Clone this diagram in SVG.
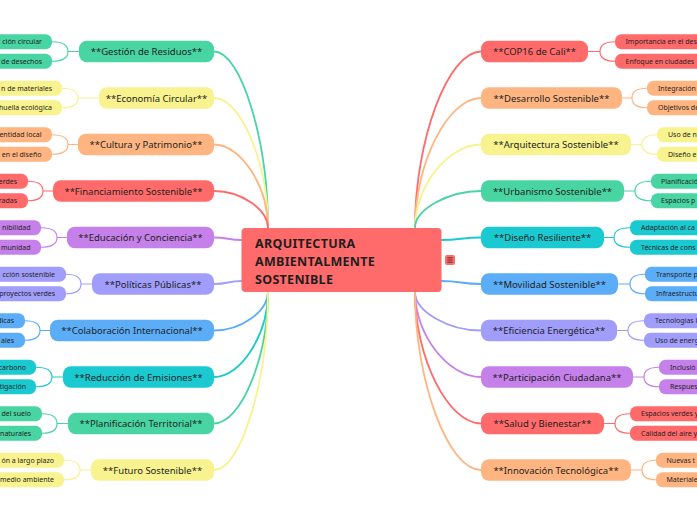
<svg xmlns="http://www.w3.org/2000/svg" width="697" height="520" viewBox="0 0 697 520">
<style>
text{font-family:"Noto Sans","Open Sans",sans-serif;fill:#1e1e1e}
.m text{font-size:9.5px;text-anchor:middle}
.m text.lf{font-size:7px;text-anchor:start}
.m text.le{text-anchor:end}
.c path{fill:none;stroke-width:1.8;stroke-linecap:round}
.c .b{stroke-width:1.2}
.fg{fill:#48D5A3}.fy{fill:#F8F28F}.fp{fill:#FFB581}.fr{fill:#FF6B6B}.fu{fill:#C581E9}.fl{fill:#A19DFB}.fb{fill:#5CADF7}.fc{fill:#1BCAD0}
.sg{stroke:#48D5A3}.sy{stroke:#F8F28F}.sp{stroke:#FFB581}.sr{stroke:#FF6B6B}.su{stroke:#C581E9}.sl{stroke:#A19DFB}.sb{stroke:#5CADF7}.sc{stroke:#1BCAD0}
</style>
<rect width="697" height="520" fill="#ffffff"/>
<g class="c" id="connectors">
<path class="sg" d="M214,51.5 C241,51.5 268,139.75 268,228"/>
<path class="sy" d="M214,98 C241,98 268,163 268,228"/>
<path class="sp" d="M214,144.5 C241,144.5 268,186.25 268,228"/>
<path class="sr" d="M214,191 C241,191 268,209.5 268,228"/>
<path class="su" d="M214,237.5 C228,237.5 228,240 242,240"/>
<path class="sl" d="M214,284 C228,284 228,281 242,281"/>
<path class="sb" d="M214,330.5 C241,330.5 268,311.25 268,292"/>
<path class="sc" d="M214,377 C241,377 268,334.5 268,292"/>
<path class="sg" d="M214,423.5 C241,423.5 268,357.75 268,292"/>
<path class="sy" d="M214,470 C241,470 268,381 268,292"/>
<path class="sr" d="M481,51.5 C448,51.5 415,139.75 415,228"/>
<path class="sp" d="M481,98 C448,98 415,163 415,228"/>
<path class="sy" d="M481,144.5 C448,144.5 415,186.25 415,228"/>
<path class="sg" d="M481,191 C448,191 415,209.5 415,228"/>
<path class="sc" d="M481,237.5 C461,237.5 461,240 441,240"/>
<path class="sb" d="M481,284 C461,284 461,281 441,281"/>
<path class="sl" d="M481,330.5 C448,330.5 415,311.25 415,292"/>
<path class="su" d="M481,377 C448,377 415,334.5 415,292"/>
<path class="sr" d="M481,423.5 C448,423.5 415,357.75 415,292"/>
<path class="sp" d="M481,470 C448,470 415,381 415,292"/>
<path class="b sg" d="M52,41.75 Q68,41.75 68,51.5 Q68,61.25 52,61.25 M68,51.5 H79"/>
<path class="b sy" d="M62,88.25 Q78,88.25 78,98 Q78,107.75 62,107.75 M78,98 H99"/>
<path class="b sp" d="M52,134.75 Q68,134.75 68,144.5 Q68,154.25 52,154.25 M68,144.5 H78"/>
<path class="b sr" d="M28,181.25 Q43,181.25 43,191 Q43,200.75 28,200.75 M43,191 H53"/>
<path class="b su" d="M41,227.75 Q57,227.75 57,237.5 Q57,247.25 41,247.25 M57,237.5 H67"/>
<path class="b sl" d="M66,274.25 Q81,274.25 81,284 Q81,293.75 66,293.75 M81,284 H92"/>
<path class="b sb" d="M25,320.75 Q40,320.75 40,330.5 Q40,340.25 25,340.25 M40,330.5 H50"/>
<path class="b sc" d="M36,367.25 Q52,367.25 52,377 Q52,386.75 36,386.75 M52,377 H63"/>
<path class="b sg" d="M42,413.75 Q57,413.75 57,423.5 Q57,433.25 42,433.25 M57,423.5 H68"/>
<path class="b sy" d="M64,460.25 Q80,460.25 80,470 Q80,479.75 64,479.75 M80,470 H91"/>
<path class="b sr" d="M615,41.75 Q600,41.75 600,51.5 Q600,61.25 615,61.25 M600,51.5 H588"/>
<path class="b sp" d="M647,88.25 Q632,88.25 632,98 Q632,107.75 647,107.75 M632,98 H622"/>
<path class="b sy" d="M657,134.75 Q642,134.75 642,144.5 Q642,154.25 657,154.25 M642,144.5 H631"/>
<path class="b sg" d="M651,181.25 Q635,181.25 635,191 Q635,200.75 651,200.75 M635,191 H624"/>
<path class="b sc" d="M630,227.75 Q614,227.75 614,237.5 Q614,247.25 630,247.25 M614,237.5 H604"/>
<path class="b sb" d="M645,274.25 Q630,274.25 630,284 Q630,293.75 645,293.75 M630,284 H618"/>
<path class="b sl" d="M644,320.75 Q628,320.75 628,330.5 Q628,340.25 644,340.25 M628,330.5 H617"/>
<path class="b su" d="M659,367.25 Q644,367.25 644,377 Q644,386.75 659,386.75 M644,377 H633"/>
<path class="b sr" d="M630,413.75 Q615,413.75 615,423.5 Q615,433.25 630,433.25 M615,423.5 H604"/>
<path class="b sp" d="M656,460.25 Q642,460.25 642,470 Q642,479.75 656,479.75 M642,470 H631"/>
</g>
<g id="center">
<rect x="241.5" y="228" width="200" height="64" rx="4" fill="#FF6B6B"/>
<text x="255" y="247.5" font-size="12.5" font-weight="bold" letter-spacing="0.3">ARQUITECTURA</text>
<text x="255" y="265.5" font-size="12.5" font-weight="bold" letter-spacing="0.3">AMBIENTALMENTE</text>
<text x="255" y="283.5" font-size="12.5" font-weight="bold" letter-spacing="0.3">SOSTENIBLE</text>
<rect x="445" y="255" width="10" height="10" rx="2" fill="#FF6B6B"/>
<path d="M447.3,257.8 H452.7 M447.3,260 H452.7 M447.3,262.2 H452.7" stroke="#3a1a1a" stroke-width="0.8"/>
</g>
<g class="m" id="n-gestion">
<rect class="fg" x="79" y="40.75" width="135" height="21.5" rx="8"/><text x="146.5" y="55">**Gestión de Residuos**</text>
<rect class="fg" x="-40" y="34.25" width="92" height="15" rx="6.5"/><text class="lf le" x="42" y="44.3">ción circular</text>
<rect class="fg" x="-40" y="53.75" width="92" height="15" rx="6.5"/><text class="lf le" x="42" y="63.8">de desechos</text>
</g>
<g class="m" id="n-economia">
<rect class="fy" x="99" y="87.25" width="115" height="21.5" rx="8"/><text x="156.5" y="101.5">**Economía Circular**</text>
<rect class="fy" x="-40" y="80.75" width="102" height="15" rx="6.5"/><text class="lf le" x="52" y="90.8">n de materiales</text>
<rect class="fy" x="-40" y="100.25" width="102" height="15" rx="6.5"/><text class="lf le" x="52" y="110.3">huella ecológica</text>
</g>
<g class="m" id="n-cultura">
<rect class="fp" x="78" y="133.75" width="136" height="21.5" rx="8"/><text x="146" y="148">**Cultura y Patrimonio**</text>
<rect class="fp" x="-40" y="127.25" width="92" height="15" rx="6.5"/><text class="lf le" x="41.5" y="137.3">entidad local</text>
<rect class="fp" x="-40" y="146.75" width="92" height="15" rx="6.5"/><text class="lf le" x="41.5" y="156.8">en el diseño</text>
</g>
<g class="m" id="n-financiamiento">
<rect class="fr" x="53" y="180.25" width="161" height="21.5" rx="8"/><text x="133.5" y="194.5">**Financiamiento Sostenible**</text>
<rect class="fr" x="-40" y="173.75" width="68" height="15" rx="6.5"/><text class="lf le" x="17" y="183.8">erdes</text>
<rect class="fr" x="-40" y="193.25" width="68" height="15" rx="6.5"/><text class="lf le" x="17" y="203.3">radas</text>
</g>
<g class="m" id="n-educacion">
<rect class="fu" x="67" y="226.75" width="147" height="21.5" rx="8"/><text x="140.5" y="241">**Educación y Conciencia**</text>
<rect class="fu" x="-40" y="220.25" width="81" height="15" rx="6.5"/><text class="lf le" x="30.5" y="230.3">nibilidad</text>
<rect class="fu" x="-40" y="239.75" width="81" height="15" rx="6.5"/><text class="lf le" x="30.5" y="249.8">munidad</text>
</g>
<g class="m" id="n-politicas">
<rect class="fl" x="92" y="273.25" width="122" height="21.5" rx="8"/><text x="153" y="287.5">**Políticas Públicas**</text>
<rect class="fl" x="-40" y="266.75" width="106" height="15" rx="6.5"/><text class="lf le" x="55" y="276.8">cción sostenible</text>
<rect class="fl" x="-40" y="286.25" width="106" height="15" rx="6.5"/><text class="lf le" x="55" y="296.3">proyectos verdes</text>
</g>
<g class="m" id="n-colaboracion">
<rect class="fb" x="50" y="319.75" width="164" height="21.5" rx="8"/><text x="132" y="334">**Colaboración Internacional**</text>
<rect class="fb" x="-40" y="313.25" width="65" height="15" rx="6.5"/><text class="lf le" x="14" y="323.3">dicas</text>
<rect class="fb" x="-40" y="332.75" width="65" height="15" rx="6.5"/><text class="lf le" x="14" y="342.8">ales</text>
</g>
<g class="m" id="n-reduccion">
<rect class="fc" x="63" y="366.25" width="151" height="21.5" rx="8"/><text x="138.5" y="380.5">**Reducción de Emisiones**</text>
<rect class="fc" x="-40" y="359.75" width="76" height="15" rx="6.5"/><text class="lf le" x="26" y="369.8">carbono</text>
<rect class="fc" x="-40" y="379.25" width="76" height="15" rx="6.5"/><text class="lf le" x="26" y="389.3">tigación</text>
</g>
<g class="m" id="n-planificacion">
<rect class="fg" x="68" y="412.75" width="146" height="21.5" rx="8"/><text x="141" y="427">**Planificación Territorial**</text>
<rect class="fg" x="-40" y="406.25" width="82" height="15" rx="6.5"/><text class="lf le" x="31" y="416.3">del suelo</text>
<rect class="fg" x="-40" y="425.75" width="82" height="15" rx="6.5"/><text class="lf le" x="31" y="435.8">naturales</text>
</g>
<g class="m" id="n-futuro">
<rect class="fy" x="91" y="459.25" width="123" height="21.5" rx="8"/><text x="152.5" y="473.5">**Futuro Sostenible**</text>
<rect class="fy" x="-40" y="452.75" width="104" height="15" rx="6.5"/><text class="lf le" x="54" y="462.8">ón a largo plazo</text>
<rect class="fy" x="-40" y="472.25" width="104" height="15" rx="6.5"/><text class="lf le" x="54" y="482.3">medio ambiente</text>
</g>
<g class="m" id="n-cop16">
<rect class="fr" x="481" y="40.75" width="107" height="21.5" rx="8"/><text x="534.5" y="55">**COP16 de Cali**</text>
<rect class="fr" x="615" y="34.25" width="130" height="15" rx="6.5"/><text class="lf" x="625.5" y="44.3">Importancia en el des</text>
<rect class="fr" x="615" y="53.75" width="130" height="15" rx="6.5"/><text class="lf" x="625.5" y="63.8">Enfoque en ciudades</text>
</g>
<g class="m" id="n-desarrollo">
<rect class="fp" x="481" y="87.25" width="141" height="21.5" rx="8"/><text x="551.5" y="101.5">**Desarrollo Sostenible**</text>
<rect class="fp" x="647" y="80.75" width="100" height="15" rx="6.5"/><text class="lf" x="658" y="90.8">Integración</text>
<rect class="fp" x="647" y="100.25" width="100" height="15" rx="6.5"/><text class="lf" x="658" y="110.3">Objetivos de</text>
</g>
<g class="m" id="n-arquitectura">
<rect class="fy" x="481" y="133.75" width="150" height="21.5" rx="8"/><text x="556" y="148">**Arquitectura Sostenible**</text>
<rect class="fy" x="657" y="127.25" width="100" height="15" rx="6.5"/><text class="lf" x="668" y="137.3">Uso de n</text>
<rect class="fy" x="657" y="146.75" width="100" height="15" rx="6.5"/><text class="lf" x="668" y="156.8">Diseño e</text>
</g>
<g class="m" id="n-urbanismo">
<rect class="fg" x="481" y="180.25" width="143" height="21.5" rx="8"/><text x="552.5" y="194.5">**Urbanismo Sostenible**</text>
<rect class="fg" x="651" y="173.75" width="100" height="15" rx="6.5"/><text class="lf" x="661" y="183.8">Planificació</text>
<rect class="fg" x="651" y="193.25" width="100" height="15" rx="6.5"/><text class="lf" x="661" y="203.3">Espacios p</text>
</g>
<g class="m" id="n-diseno">
<rect class="fc" x="481" y="226.75" width="123" height="21.5" rx="8"/><text x="542.5" y="241">**Diseño Resiliente**</text>
<rect class="fc" x="630" y="220.25" width="110" height="15" rx="6.5"/><text class="lf" x="641" y="230.3">Adaptación al ca</text>
<rect class="fc" x="630" y="239.75" width="110" height="15" rx="6.5"/><text class="lf" x="641" y="249.8">Técnicas de cons</text>
</g>
<g class="m" id="n-movilidad">
<rect class="fb" x="481" y="273.25" width="137" height="21.5" rx="8"/><text x="549.5" y="287.5">**Movilidad Sostenible**</text>
<rect class="fb" x="645" y="266.75" width="100" height="15" rx="6.5"/><text class="lf" x="656" y="276.8">Transporte p</text>
<rect class="fb" x="645" y="286.25" width="100" height="15" rx="6.5"/><text class="lf" x="656" y="296.3">Infraestructu</text>
</g>
<g class="m" id="n-eficiencia">
<rect class="fl" x="481" y="319.75" width="136" height="21.5" rx="8"/><text x="549" y="334">**Eficiencia Energética**</text>
<rect class="fl" x="644" y="313.25" width="100" height="15" rx="6.5"/><text class="lf" x="655" y="323.3">Tecnologías l</text>
<rect class="fl" x="644" y="332.75" width="100" height="15" rx="6.5"/><text class="lf" x="655" y="342.8">Uso de energ</text>
</g>
<g class="m" id="n-participacion">
<rect class="fu" x="481" y="366.25" width="152" height="21.5" rx="8"/><text x="557" y="380.5">**Participación Ciudadana**</text>
<rect class="fu" x="659" y="359.75" width="100" height="15" rx="6.5"/><text class="lf" x="670" y="369.8">Inclusió</text>
<rect class="fu" x="659" y="379.25" width="100" height="15" rx="6.5"/><text class="lf" x="670" y="389.3">Respues</text>
</g>
<g class="m" id="n-salud">
<rect class="fr" x="481" y="412.75" width="123" height="21.5" rx="8"/><text x="542.5" y="427">**Salud y Bienestar**</text>
<rect class="fr" x="630" y="406.25" width="110" height="15" rx="6.5"/><text class="lf" x="641" y="416.3">Espacios verdes y</text>
<rect class="fr" x="630" y="425.75" width="110" height="15" rx="6.5"/><text class="lf" x="641" y="435.8">Calidad del aire y</text>
</g>
<g class="m" id="n-innovacion">
<rect class="fp" x="481" y="459.25" width="150" height="21.5" rx="8"/><text x="556" y="473.5">**Innovación Tecnológica**</text>
<rect class="fp" x="656" y="452.75" width="100" height="15" rx="6.5"/><text class="lf" x="666.5" y="462.8">Nuevas t</text>
<rect class="fp" x="656" y="472.25" width="100" height="15" rx="6.5"/><text class="lf" x="666.5" y="482.3">Materiale</text>
</g>
</svg>
